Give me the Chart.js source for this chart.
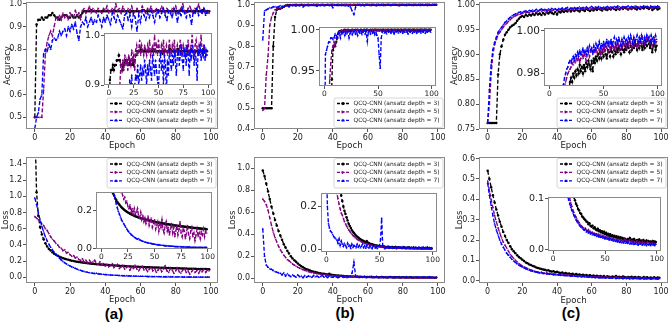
<!DOCTYPE html>
<html>
<head>
<meta charset="utf-8">
<script src="https://cdn.jsdelivr.net/npm/chart.js@4.4.1/dist/chart.umd.min.js"></script>
<style>
  html, body { margin: 0; padding: 0; background: #fff; }
  #fig { position: relative; width: 670px; height: 328px; overflow: hidden; }
  #fig canvas { position: absolute; }
  .tag { position: absolute; font: bold 15px "Liberation Sans", Arial, sans-serif; color: #000; transform: translate(-50%, -50%); }
</style>
</head>
<body>
<div id="fig">
  <div class="tag" style="left:114px;top:313px">(a)</div>
  <div class="tag" style="left:345px;top:312px">(b)</div>
  <div class="tag" style="left:571px;top:312px">(c)</div>
</div>
<script>
const EPOCHS = Array.from({length: 100}, (_, i) => i);
const LABELS = ['QCQ-CNN (ansatz depth = 3)', 'QCQ-CNN (ansatz depth = 5)', 'QCQ-CNN (ansatz depth = 7)'];

// tick labels
const X_TICKS = [0, 20, 40, 60, 80, 100];
const X_TICKS_IN_A = [0, 25, 50, 75, 100];
const X_TICKS_IN = [0, 50, 100];
const Y_ACC_A = [0.5, 0.6, 0.7, 0.8, 0.9, 1.0];
const Y_ACC_B = [0.4, 0.5, 0.6, 0.7, 0.8, 0.9, 1.0];
const Y_ACC_C = [0.75, 0.80, 0.85, 0.90, 0.95, 1.00];
const Y_LOSS_A = [0, 0.2, 0.4, 0.6, 0.8, 1.0, 1.2, 1.4];
const Y_LOSS_B = [0, 0.2, 0.4, 0.6, 0.8, 1.0];
const Y_LOSS_C = [0, 0.1, 0.2, 0.3, 0.4, 0.5, 0.6];
const YI_ACC_A = [0.9, 1.0];
const YI_ACC_B = [0.95, 1.00];
const YI_ACC_C = [0.98, 1.00];
const YI_LOSS_A = [0, 0.2];
const YI_LOSS_B = [0, 0.2];
const YI_LOSS_C = [0, 0.1];

// (a) accuracy
const A_ACC_3 = [
  .50,.91,.93,.93,.94,.93,.94,.94,.95,.95,
  .96,.95,.94,.94,.93,.94,.95,.95,.95,.94,
  .94,.95,.94,.94,.95,.94,.95,.96,.968,.968,
  .968,.968,.972,.968,.968,.968,.968,.968,.968,.968,
  .968,.968,.968,.968,.968,.972,.968,.968,.968,.968,
  .968,.968,.968,.968,.963,.968,.968,.968,.968,.968,
  .968,.972,.972,.968,.968,.968,.968,.968,.968,.972,
  .972,.968,.968,.968,.968,.968,.968,.968,.968,.968,
  .968,.968,.968,.972,.968,.968,.968,.968,.968,.968,
  .968,.968,.968,.968,.968,.972,.968,.968,.968,.968];
const A_ACC_5 = [
  .50,.50,.50,.50,.50,.62,.78,.83,.86,.88,
  .86,.90,.94,.93,.95,.93,.96,.94,.95,.93,
  .96,.95,.94,.97,.95,.96,.93,.97,.98,.96,
  .97,.99,.96,.98,.97,.96,.98,.97,.96,.98,
  .97,.99,.96,.97,.98,.96,1.0,.97,.98,.96,
  .99,.97,.96,.98,.97,.99,.96,.97,.98,.96,
  .97,.99,.97,.96,.98,.97,.99,.96,.97,.98,
  .96,.97,.99,.97,.96,.98,.97,.96,.98,.97,
  .99,.96,.97,.98,1.0,.97,.96,.98,.99,.97,
  .96,.98,.97,1.0,.97,.96,.98,.97,.96,.97];
const A_ACC_7 = [
  .45,.50,.52,.58,.60,.78,.80,.79,.82,.80,
  .84,.85,.84,.85,.88,.86,.88,.89,.86,.90,
  .88,.91,.89,.92,.87,.84,.90,.92,.91,.94,
  .90,.92,.94,.91,.93,.92,.95,.93,.90,.94,
  .92,.95,.93,.91,.96,.94,.92,.95,.93,.91,
  .89,.95,.96,.93,.95,.90,.96,.94,.88,.95,
  .92,.97,.95,.93,.96,.94,.97,.95,.92,.96,
  .97,.94,.96,.98,.95,.93,.97,.96,.94,.98,
  .96,.92,.97,.95,.98,.96,.94,.97,.95,.91,
  .97,.96,.98,.95,.97,.96,.98,.95,.97,.96];

// (a) loss
const A_LOSS_3 = [
  1.90,1.05,.76,.62,.53,.47,.42,.38,.35,.33,
  .31,.29,.28,.265,.255,.245,.237,.23,.223,.217,
  .211,.206,.201,.197,.193,.189,.186,.183,.18,.177,
  .174,.172,.169,.167,.165,.163,.161,.159,.157,.156,
  .154,.152,.151,.149,.148,.146,.145,.144,.142,.141,
  .14,.139,.137,.136,.135,.134,.133,.132,.131,.13,
  .129,.128,.127,.126,.125,.124,.123,.122,.121,.12,
  .12,.119,.118,.117,.116,.116,.115,.114,.113,.113,
  .112,.111,.111,.11,.109,.109,.108,.107,.107,.106,
  .106,.105,.104,.104,.103,.103,.102,.102,.101,.10];
const A_LOSS_5 = [
  .75,.73,.71,.69,.66,.64,.60,.58,.54,.50,
  .47,.45,.42,.40,.37,.36,.33,.34,.30,.31,
  .28,.26,.27,.24,.25,.22,.21,.23,.19,.21,
  .18,.21,.18,.19,.21,.17,.16,.19,.15,.17,
  .14,.16,.13,.15,.17,.12,.14,.16,.11,.13,
  .15,.10,.12,.14,.09,.13,.11,.15,.10,.08,
  .12,.14,.09,.11,.07,.10,.13,.08,.11,.06,
  .09,.12,.07,.10,.14,.08,.06,.11,.09,.05,
  .08,.12,.07,.05,.09,.11,.06,.08,.04,.07,
  .10,.06,.08,.05,.09,.07,.10,.06,.09,.08];
const A_LOSS_7 = [
  .98,.90,.80,.71,.63,.56,.50,.45,.41,.37,
  .34,.31,.285,.26,.235,.215,.195,.18,.165,.15,
  .14,.13,.12,.11,.10,.092,.085,.078,.072,.067,
  .062,.058,.054,.05,.047,.05,.044,.041,.038,.036,
  .034,.032,.03,.029,.027,.026,.025,.024,.022,.021,
  .02,.019,.018,.017,.017,.016,.015,.014,.014,.013,
  .012,.012,.011,.011,.01,.01,.009,.009,.009,.008,
  .008,.008,.007,.007,.007,.006,.006,.006,.006,.005,
  .005,.005,.005,.005,.004,.004,.004,.004,.004,.004,
  .004,.003,.003,.003,.003,.003,.003,.003,.003,.003];

// (b) accuracy
const B_ACC_3 = [
  .50,.50,.50,.50,.50,.50,.80,.94,.975,.98,
  .98,.985,.99,.995,.998,.998,.999,.998,.999,1.0,
  .999,.999,1.0,.999,.999,.998,1.0,.999,.999,1.0,
  .999,1.0,.999,.999,1.0,.999,.999,1.0,.999,1.0,
  1.0,.999,.999,1.0,.999,1.0,.999,1.0,1.0,.999,
  1.0,.999,1.0,.999,1.0,1.0,.999,1.0,.999,1.0,
  1.0,.999,1.0,1.0,.999,1.0,1.0,.999,1.0,1.0,
  .999,1.0,1.0,.999,1.0,1.0,1.0,.999,1.0,1.0,
  1.0,.999,1.0,1.0,1.0,.999,1.0,1.0,.999,1.0,
  1.0,1.0,.999,1.0,1.0,1.0,.999,1.0,1.0,1.0];
const B_ACC_5 = [
  .49,.50,.66,.75,.90,.94,.96,.975,.98,.985,
  .98,.99,.99,.995,.997,.998,.999,.998,1.0,.999,
  .999,1.0,.999,1.0,1.0,.999,1.0,.999,1.0,1.0,
  .999,1.0,1.0,.999,1.0,1.0,.999,1.0,1.0,.999,
  1.0,1.0,.999,1.0,.999,1.0,1.0,1.0,.999,1.0,
  1.0,.999,1.0,1.0,1.0,.999,1.0,1.0,.999,1.0,
  1.0,1.0,.999,1.0,1.0,1.0,.999,1.0,1.0,1.0,
  .999,1.0,1.0,1.0,.999,1.0,1.0,1.0,1.0,.999,
  1.0,1.0,1.0,.999,1.0,1.0,1.0,.999,1.0,1.0,
  1.0,.999,1.0,1.0,1.0,1.0,.999,1.0,1.0,1.0];
const B_ACC_7 = [
  .83,.97,.975,.98,.985,.985,.99,.99,.988,.99,
  .995,.993,.99,.997,.995,.99,.997,.995,.998,.993,
  .997,.995,.998,.99,.996,.998,.994,.997,.999,.995,
  .997,.993,.998,.996,.999,.994,.997,.999,.995,.998,
  .986,.997,.999,.995,.998,.996,.999,.994,.997,.993,
  .99,.97,.953,.99,.997,.999,.996,.998,.995,.999,
  .997,.998,.996,.999,.997,.995,.998,.997,.999,.996,
  .998,.997,.999,.996,.998,.997,.999,.997,.995,.998,
  .997,.999,.996,.998,.997,.999,.996,.998,.997,.999,
  .996,.998,.997,.999,.996,.998,.997,.998,.999,.997];

// (b) loss
const B_LOSS_3 = [
  .98,.93,.86,.79,.72,.65,.59,.53,.48,.43,
  .39,.35,.31,.28,.25,.225,.20,.18,.165,.15,
  .135,.12,.11,.10,.09,.083,.077,.07,.065,.06,
  .056,.052,.048,.045,.042,.04,.037,.035,.04,.033,
  .03,.028,.026,.025,.023,.022,.02,.019,.018,.017,
  .016,.015,.015,.014,.016,.013,.013,.012,.014,.012,
  .011,.011,.013,.01,.01,.012,.009,.01,.011,.009,
  .01,.008,.009,.011,.008,.009,.008,.01,.007,.008,
  .009,.007,.008,.007,.009,.007,.006,.008,.007,.006,
  .008,.006,.007,.006,.008,.006,.007,.006,.005,.006];
const B_LOSS_5 = [
  .72,.70,.67,.62,.55,.48,.42,.37,.33,.29,
  .26,.235,.21,.19,.17,.16,.145,.13,.12,.11,
  .10,.092,.085,.078,.072,.066,.061,.056,.052,.048,
  .045,.042,.039,.036,.034,.032,.03,.028,.027,.025,
  .024,.022,.021,.02,.019,.018,.017,.016,.016,.015,
  .014,.014,.013,.012,.012,.011,.011,.01,.01,.01,
  .009,.009,.009,.008,.008,.008,.008,.007,.007,.007,
  .007,.007,.006,.006,.006,.006,.006,.006,.006,.005,
  .005,.005,.005,.005,.005,.005,.005,.005,.005,.005,
  .005,.005,.004,.004,.004,.004,.004,.004,.004,.004];
const B_LOSS_7 = [
  .45,.20,.12,.10,.085,.08,.07,.06,.055,.05,
  .045,.03,.05,.02,.04,.025,.015,.03,.02,.01,
  .03,.015,.02,.005,.025,.01,.02,.015,.008,.025,
  .012,.02,.008,.015,.025,.01,.018,.006,.02,.012,
  .008,.018,.01,.005,.015,.02,.008,.012,.005,.015,
  .02,.05,.145,.02,.01,.005,.012,.008,.015,.006,
  .01,.014,.006,.012,.008,.015,.005,.01,.013,.007,
  .011,.006,.014,.008,.01,.005,.012,.009,.013,.006,
  .01,.008,.013,.005,.011,.009,.006,.012,.008,.01,
  .005,.012,.008,.01,.006,.013,.007,.01,.005,.009];

// (c) accuracy
const C_ACC_3 = [
  .762,.762,.762,.762,.762,.762,.86,.90,.917,.93,
  .94,.945,.95,.955,.958,.96,.963,.968,.972,.976,
  .978,.976,.98,.978,.981,.979,.982,.98,.984,.981,
  .983,.98,.984,.981,.985,.983,.986,.984,.982,.986,
  .981,.987,.985,.988,.986,.989,.987,.99,.987,.99,
  .988,.991,.989,.987,.991,.99,.988,.992,.99,.988,
  .991,.989,.992,.99,.993,.991,.989,.993,.991,.99,
  .993,.991,.994,.992,.99,.993,.991,.994,.992,.995,
  .993,.991,.994,.992,.995,.993,.991,.994,.992,.995,
  .993,.996,.994,.992,.995,.99,.993,.995,.991,.993];
const C_ACC_5 = [
  .762,.80,.86,.90,.92,.93,.94,.945,.95,.955,
  .96,.963,.967,.97,.974,.976,.978,.98,.981,.982,
  .983,.985,.984,.986,.985,.987,.986,.988,.985,.987,
  .989,.987,.99,.988,.986,.989,.991,.988,.99,.992,
  .989,.991,.99,.992,.99,.993,.991,.989,.992,.99,
  .993,.991,.994,.992,.99,.993,.991,.994,.992,.993,
  .991,.994,.992,.995,.993,.991,.994,.992,.995,.993,
  .994,.992,.995,.993,.996,.994,.992,.995,.993,.996,
  .994,.992,.995,.993,.996,.994,.997,.995,.993,.996,
  .998,.995,.997,.994,.996,.993,.995,.997,.994,.995];
const C_ACC_7 = [
  .762,.83,.88,.91,.925,.935,.945,.95,.955,.96,
  .965,.968,.972,.975,.978,.98,.982,.983,.985,.986,
  .985,.987,.988,.986,.989,.988,.99,.988,.991,.989,
  .99,.992,.99,.991,.989,.992,.99,.993,.991,.992,
  .99,.993,.991,.994,.992,.993,.995,.992,.994,.993,
  .995,.993,.994,.996,.993,.995,.994,.996,.993,.995,
  .997,.994,.996,.994,.997,.995,.993,.996,.994,.997,
  .995,.996,.994,.997,.995,.998,.996,.994,.997,.995,
  .996,.998,.995,.997,.995,.998,.996,.994,.997,.995,
  .998,.996,.997,.995,.998,.996,.997,.995,.998,.996];

// (c) loss
const C_LOSS_3 = [
  .54,.50,.46,.42,.385,.35,.32,.29,.265,.24,
  .22,.20,.185,.17,.155,.145,.135,.125,.117,.11,
  .103,.097,.09,.086,.08,.077,.072,.07,.065,.063,
  .06,.058,.055,.054,.05,.052,.047,.045,.047,.042,
  .044,.04,.038,.041,.036,.038,.034,.036,.032,.035,
  .03,.033,.029,.031,.027,.03,.026,.028,.025,.027,
  .024,.026,.022,.025,.021,.024,.02,.023,.019,.022,
  .02,.018,.021,.019,.023,.018,.02,.017,.021,.018,
  .016,.019,.017,.02,.016,.018,.015,.019,.016,.014,
  .018,.015,.017,.014,.016,.013,.017,.014,.016,.015];
const C_LOSS_5 = [
  .49,.44,.40,.36,.32,.29,.26,.235,.21,.19,
  .175,.16,.145,.13,.12,.11,.10,.092,.085,.078,
  .073,.068,.064,.06,.056,.053,.05,.047,.045,.043,
  .04,.042,.038,.036,.039,.034,.036,.032,.034,.03,
  .032,.029,.031,.028,.03,.026,.029,.025,.027,.024,
  .026,.023,.025,.022,.024,.021,.023,.02,.022,.019,
  .021,.018,.02,.017,.02,.017,.019,.016,.018,.02,
  .016,.018,.015,.017,.019,.015,.017,.014,.016,.013,
  .015,.017,.013,.015,.012,.014,.016,.012,.014,.011,
  .013,.015,.011,.013,.01,.012,.014,.01,.012,.011];
const C_LOSS_7 = [
  .48,.42,.37,.32,.28,.25,.225,.20,.18,.165,
  .15,.135,.125,.115,.105,.097,.09,.083,.077,.072,
  .067,.063,.059,.055,.052,.049,.046,.044,.042,.04,
  .038,.04,.035,.037,.033,.035,.031,.033,.029,.031,
  .028,.03,.026,.028,.025,.027,.024,.026,.022,.024,
  .021,.023,.02,.022,.019,.021,.018,.02,.017,.019,
  .016,.018,.015,.017,.014,.016,.013,.015,.013,.016,
  .012,.014,.012,.015,.011,.013,.011,.014,.01,.012,
  .01,.013,.009,.011,.01,.012,.009,.011,.009,.012,
  .008,.01,.009,.011,.008,.01,.009,.011,.008,.01];

const FONT = '"DejaVu Sans", sans-serif';
const COLORS = ['#000000', '#800080', '#0000ff'];
const MARKS = ['circle', 'triangle', 'triangle'];
const ROTS = [0, 90, 0];

// frame round the plot area, white patch under insets
const framePlugin = {
  id: 'frame',
  beforeDraw(chart, args, opts) {
    if (!opts.fill) return;
    const {ctx, chartArea: a} = chart;
    ctx.save();
    ctx.fillStyle = '#fff';
    ctx.fillRect(a.left, a.top, a.width, a.height);
    ctx.restore();
  },
  afterDraw(chart) {
    const {ctx, chartArea: a} = chart;
    ctx.save();
    ctx.strokeStyle = '#8a8a8a';
    ctx.lineWidth = 1;
    ctx.strokeRect(a.left + 0.5, a.top + 0.5, a.width - 1, a.height - 1);
    ctx.restore();
  }
};

// axis titles placed like matplotlib's, at fixed page offsets
const titlePlugin = {
  id: 'axtitles',
  afterDraw(chart, args, o) {
    if (!o.text) return;
    const {ctx, chartArea: a} = chart;
    ctx.save();
    ctx.fillStyle = '#222';
    ctx.font = '8.5px ' + FONT;
    ctx.textAlign = 'center';
    ctx.textBaseline = 'middle';
    ctx.fillText('Epoch', (a.left + a.right) / 2, o.xY);
    ctx.translate(o.yX, (a.top + a.bottom) / 2);
    ctx.rotate(-Math.PI / 2);
    ctx.fillText(o.text, 0, 0);
    ctx.restore();
  }
};

function marker(ctx, style, rot, x, y, r) {
  ctx.save();
  ctx.translate(x, y);
  ctx.rotate(rot * Math.PI / 180);
  ctx.beginPath();
  if (style === 'circle') ctx.arc(0, 0, r, 0, Math.PI * 2);
  else { ctx.moveTo(0, -r * 1.2); ctx.lineTo(r * 1.1, r * 0.8); ctx.lineTo(-r * 1.1, r * 0.8); ctx.closePath(); }
  ctx.fill();
  ctx.restore();
}

// matplotlib-like legend box inside the axes, right side
const legendPlugin = {
  id: 'qlegend',
  afterDraw(chart, args, opts) {
    if (!opts.where) return;
    const {ctx, chartArea: a} = chart;
    const bw = 109, bh = 29.5, rowH = 8.4;
    const x0 = a.right - 2 - bw;
    const y0 = opts.where === 'upper' ? a.top + 1.5 : a.bottom - 1.5 - bh;
    ctx.save();
    ctx.fillStyle = 'rgba(255,255,255,0.85)';
    ctx.strokeStyle = '#cccccc';
    ctx.lineWidth = 0.8;
    ctx.beginPath();
    ctx.roundRect(x0, y0, bw, bh, 2);
    ctx.fill();
    ctx.stroke();
    chart.data.datasets.forEach((ds, i) => {
      const y = y0 + 5.5 + i * rowH;
      ctx.strokeStyle = ds.borderColor;
      ctx.fillStyle = ds.borderColor;
      ctx.lineWidth = 1.3;
      ctx.setLineDash([3, 1.5]);
      ctx.beginPath();
      ctx.moveTo(x0 + 3, y);
      ctx.lineTo(x0 + 15, y);
      ctx.stroke();
      ctx.setLineDash([]);
      marker(ctx, ds.pointStyle, ds.pointRotation, x0 + 9, y, 1.6);
      ctx.fillStyle = '#222';
      ctx.font = '5.9px ' + FONT;
      ctx.textBaseline = 'middle';
      ctx.fillText(ds.label, x0 + 19.5, y);
    });
    ctx.restore();
  }
};

function makePanel(p) {
  const T = p.inset ? 8 : 6, R = p.inset ? 8 : 10;
  const [fl, ft, fr, fb] = p.frame;
  const cv = document.createElement('canvas');
  const cx = fl - p.left, cy = ft - T;
  cv.width = fr - fl + p.left + R;
  cv.height = fb - ft + T + p.bottom;
  cv.style.left = cx + 'px';
  cv.style.top = cy + 'px';
  document.getElementById('fig').appendChild(cv);

  new Chart(cv, {
    type: 'line',
    data: {
      labels: EPOCHS,
      datasets: p.sets.map((d, i) => ({
        label: LABELS[i], data: d,
        borderColor: COLORS[i], backgroundColor: COLORS[i],
        borderWidth: 1.35, borderDash: [4, 2],
        pointRadius: 1.25, pointStyle: MARKS[i], pointRotation: ROTS[i], pointBorderWidth: 0,
        order: 3 - i, tension: 0
      }))
    },
    options: {
      responsive: false, animation: false, events: [],
      layout: {padding: {top: T, right: R, left: 0, bottom: 0}},
      plugins: {
        legend: {display: false}, tooltip: {enabled: false},
        frame: {fill: !!p.inset},
        qlegend: {where: p.legend || null},
        axtitles: p.ytitle ? {text: p.ytitle, xY: p.xTitleY - cy, yX: p.yTitleX - cx} : {}
      },
      scales: {
        x: {
          type: 'linear', min: -5, max: 104,
          afterBuildTicks: s => { s.ticks = p.xt.map(v => ({value: v})); },
          afterFit: s => { s.height = p.bottom; },
          ticks: {font: {family: FONT, size: p.inset ? 7.5 : 8}, color: '#222', padding: 1, maxRotation: 0, autoSkip: false, callback: v => String(v)},
          grid: {drawOnChartArea: false, tickLength: 3, color: '#555'},
          border: {display: false}
        },
        y: {
          type: 'linear', min: p.y[0], max: p.y[1],
          afterBuildTicks: s => { s.ticks = p.yt.map(v => ({value: v})); },
          afterFit: s => { s.width = p.left; },
          ticks: {font: {family: FONT, size: p.yFont || 8}, color: '#222', padding: 1, autoSkip: false, callback: v => v.toFixed(p.dec)},
          grid: {drawOnChartArea: false, tickLength: 3, color: '#555'},
          border: {display: false}
        }
      }
    },
    plugins: [framePlugin, legendPlugin, titlePlugin]
  });
}

const ACC_SETS = {a: [A_ACC_3, A_ACC_5, A_ACC_7], b: [B_ACC_3, B_ACC_5, B_ACC_7], c: [C_ACC_3, C_ACC_5, C_ACC_7]};
const LOSS_SETS = {a: [A_LOSS_3, A_LOSS_5, A_LOSS_7], b: [B_LOSS_3, B_LOSS_5, B_LOSS_7], c: [C_LOSS_3, C_LOSS_5, C_LOSS_7]};

// main axes
makePanel({frame: [26, 2, 218, 129], left: 24, bottom: 24, y: [0.4484, 1.0088], yt: Y_ACC_A, dec: 1, xt: X_TICKS, sets: ACC_SETS.a, ytitle: 'Accuracy', yTitleX: 7.5, xTitleY: 145.5, legend: 'lower'});
makePanel({frame: [254, 2, 445, 129], left: 28, bottom: 24, y: [0.4, 1.013], yt: Y_ACC_B, dec: 1, xt: X_TICKS, sets: ACC_SETS.b, ytitle: 'Accuracy', yTitleX: 232, xTitleY: 146, legend: 'lower'});
makePanel({frame: [479, 2, 668, 129], left: 30, bottom: 24, y: [0.75, 1.006], yt: Y_ACC_C, dec: 2, xt: X_TICKS, sets: ACC_SETS.c, ytitle: 'Accuracy', yTitleX: 455, xTitleY: 146, legend: 'lower'});
makePanel({frame: [26, 157, 218, 283], left: 26, bottom: 23, y: [-0.07, 1.486], yt: Y_LOSS_A, dec: 1, xt: X_TICKS, sets: LOSS_SETS.a, ytitle: 'Loss', yTitleX: 5.5, xTitleY: 299.5, legend: 'upper'});
makePanel({frame: [254, 157, 445, 283], left: 27, bottom: 23, y: [-0.043, 1.103], yt: Y_LOSS_B, dec: 1, xt: X_TICKS, sets: LOSS_SETS.b, ytitle: 'Loss', yTitleX: 232.5, xTitleY: 300, legend: 'upper'});
makePanel({frame: [479, 157, 668, 283], left: 25, bottom: 23, y: [-0.011, 0.608], yt: Y_LOSS_C, dec: 1, xt: X_TICKS, sets: LOSS_SETS.c, ytitle: 'Loss', yTitleX: 460, xTitleY: 300.5, legend: 'upper'});

// insets
makePanel({inset: true, frame: [104, 33, 212, 85], left: 30, bottom: 14, y: [0.9, 1.0046], yt: YI_ACC_A, dec: 1, yFont: 9.5, xt: X_TICKS_IN_A, sets: ACC_SETS.a});
makePanel({inset: true, frame: [319, 27, 436, 86], left: 32, bottom: 14, y: [0.9317, 1.0033], yt: YI_ACC_B, dec: 2, yFont: 11, xt: X_TICKS_IN, sets: ACC_SETS.b});
makePanel({inset: true, frame: [544, 28, 662, 86], left: 32, bottom: 14, y: [0.9741, 1.0014], yt: YI_ACC_C, dec: 2, yFont: 10.5, xt: X_TICKS_IN, sets: ACC_SETS.c});
makePanel({inset: true, frame: [96, 192, 212, 249], left: 30, bottom: 14, y: [-0.005, 0.298], yt: YI_LOSS_A, dec: 1, yFont: 9.5, xt: X_TICKS_IN_A, sets: LOSS_SETS.a});
makePanel({inset: true, frame: [321, 193, 437, 252], left: 30, bottom: 14, y: [-0.0106, 0.262], yt: YI_LOSS_B, dec: 1, yFont: 10.5, xt: X_TICKS_IN, sets: LOSS_SETS.b});
makePanel({inset: true, frame: [548, 197, 661, 251], left: 30, bottom: 14, y: [-0.0028, 0.1034], yt: YI_LOSS_C, dec: 1, yFont: 9.5, xt: X_TICKS_IN, sets: LOSS_SETS.c});
</script>
</body>
</html>
